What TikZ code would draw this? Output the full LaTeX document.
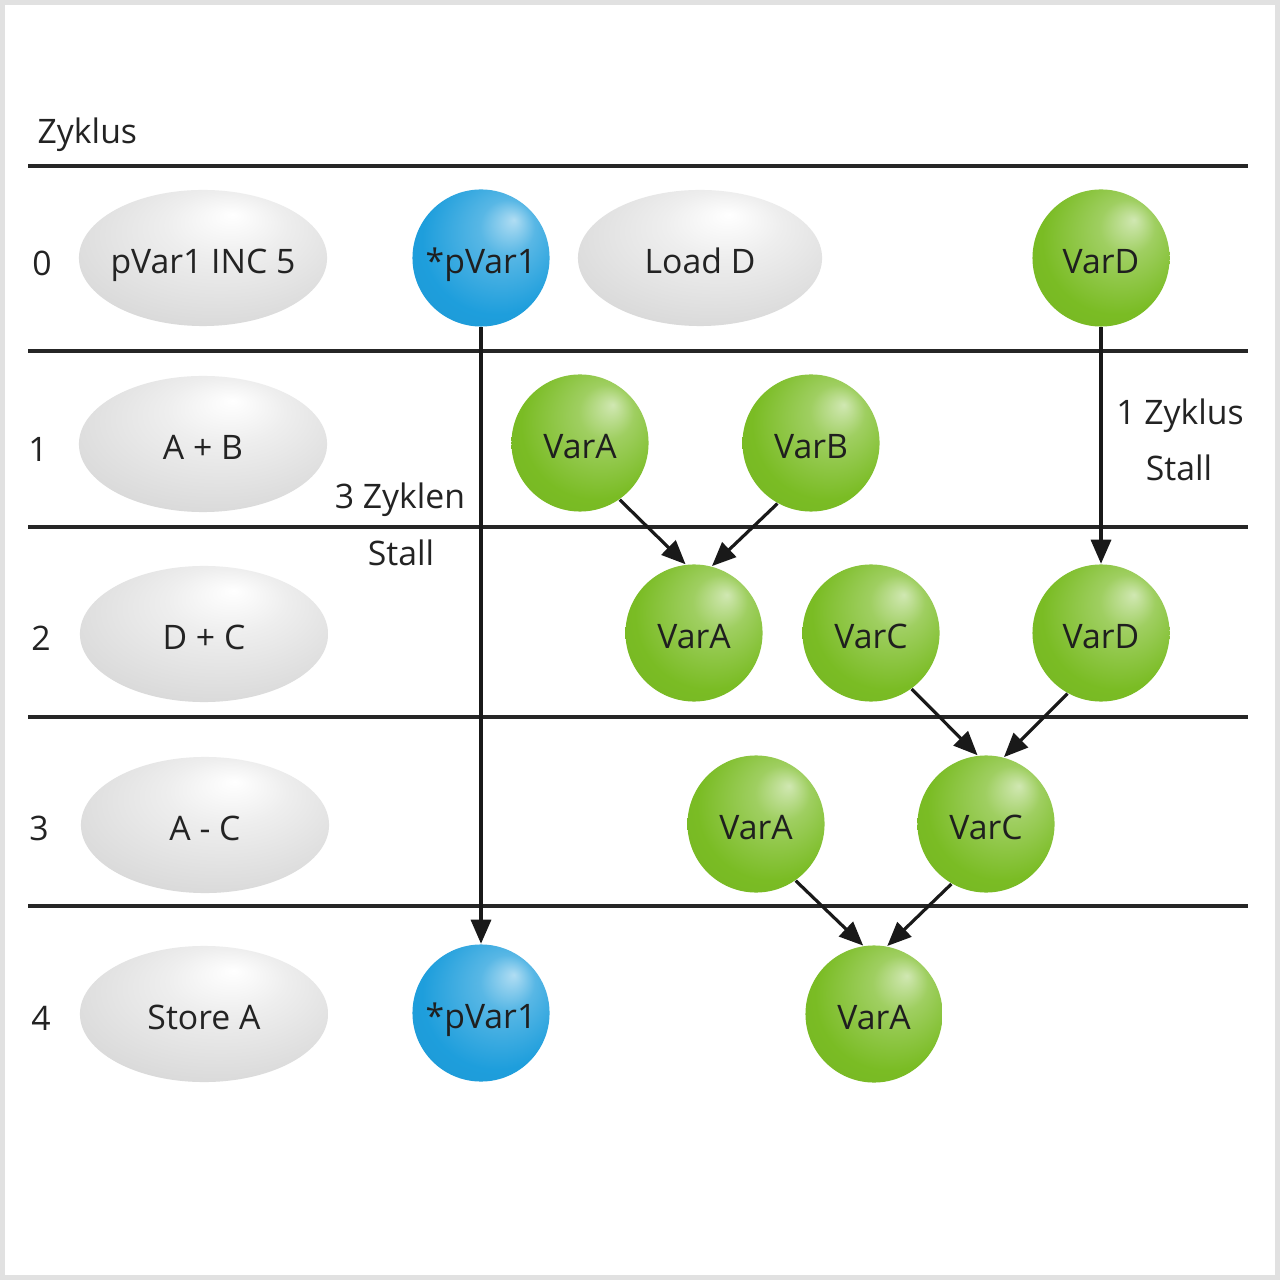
\documentclass[tikz,border=0pt]{standalone}
\usepackage{fontspec}
\setmainfont{Open Sans}
\usetikzlibrary{arrows.meta,shapes.geometric}
\definecolor{gcol}{RGB}{122,188,36}
\definecolor{bcol}{RGB}{30,158,220}
\definecolor{ecol}{RGB}{198,198,198}
\definecolor{frame}{RGB}{225,225,225}
\definecolor{txt}{RGB}{35,35,35}
\newcommand\zw[1]{\makebox[0pt]{#1}}
\pgfdeclareradialshading{greenball}{\pgfpoint{12bp}{14bp}}{%
  color(0bp)=(gcol!35!white); color(10bp)=(gcol!72!white); color(27bp)=(gcol); color(46bp)=(gcol!95!black); color(50bp)=(gcol!88!black)}
\pgfdeclareradialshading{blueball}{\pgfpoint{12bp}{14bp}}{%
  color(0bp)=(bcol!35!white); color(10bp)=(bcol!74!white); color(27bp)=(bcol); color(46bp)=(bcol!95!black); color(50bp)=(bcol!88!black)}
\pgfdeclareradialshading{grayegg}{\pgfpoint{6bp}{16bp}}{%
  color(0bp)=(white); color(12bp)=(white!70!ecol); color(34bp)=(white!30!ecol); color(48bp)=(ecol); color(50bp)=(ecol!92!black)}
\tikzset{
  txtfont/.style={font=\fontsize{9.6}{11}\selectfont, text height=9pt, text depth=0pt},
  ball/.style={circle, minimum size=1.37cm, inner sep=0pt, text=black!88, txtfont},
  gball/.style={ball, shading=greenball},
  bball/.style={ball, shading=blueball},
  egg/.style={ellipse, minimum width=2.48cm, minimum height=1.36cm, inner sep=0pt, shading=grayegg, text=txt, txtfont},
  lbl/.style={text=txt, inner sep=0pt, font=\fontsize{9.6}{11}\selectfont},
  rowline/.style={line width=1pt, draw=black!85},
  arr/.style={line width=0.9pt, draw=black!90, -{Triangle[length=0.24cm,width=0.2cm]}}
}
\begin{document}
\begin{tikzpicture}[x=0.01cm,y=-0.01cm]
\useasboundingbox (0,0) rectangle (1280,1280);
\fill[frame] (0,0) rectangle (1280,1280);
\fill[white] (5,5) rectangle (1275,1275);
% row lines
\foreach \yy/\nm in {166/l0,351/l1,527/l2,717/l3,906/l4}
  \draw[rowline] (28,\yy) coordinate (\nm a) -- (1248,\yy) coordinate (\nm b);
\node[lbl, anchor=west] (zyk) at (37,135) {Zyklus};
% row numbers
\node[lbl] (n0) at (42,263) {0};
\node[lbl] (n1) at (38,449) {1};
\node[lbl] (n2) at (41,638) {2};
\node[lbl] (n3) at (39,828) {3};
\node[lbl] (n4) at (41,1018) {4};
% instruction ellipses
\node[egg] (e0) at (203,258) {\zw{pVar1 INC 5}};
\node[egg] (e1) at (203,444) {\zw{A + B}};
\node[egg] (e2) at (204,634) {\zw{D + C}};
\node[egg] (e3) at (205,825) {\zw{A - C}};
\node[egg] (e4) at (204,1014) {\zw{Store A}};
\node[egg, minimum width=2.44cm] (ld) at (700,258) {\zw{Load D}};
% blue balls
\node[bball] (p0) at (481,258) {\zw{*pVar1}};
\node[bball] (p4) at (481,1013) {\zw{*pVar1}};
% green balls
\node[gball] (d0) at (1101,258) {VarD};
\node[gball] (a1) at (580,443) {VarA};
\node[gball] (b1) at (811,443) {VarB};
\node[gball] (a2) at (694,633) {VarA};
\node[gball] (c2) at (871,633) {VarC};
\node[gball] (d2) at (1101,633) {VarD};
\node[gball] (a3) at (756,824) {VarA};
\node[gball] (c3) at (986,824) {VarC};
\node[gball] (a4) at (874,1014) {VarA};
% arrows
\draw[arr] (p0.south) -- (p4.north);
\draw[arr] (d0.south) -- (d2.north);
\draw[arr] (a1.-55) -- (a2.97);
\draw[arr] (b1.-119) -- (a2.75);
\draw[arr] (c2.-54) -- (c3.97);
\draw[arr] (d2.-119) -- (c3.75);
\draw[arr] (a3.-55) -- (a4.99);
\draw[arr] (c3.-120) -- (a4.79);
% stall labels
\node[lbl] (s3a) at (400,500) {3 Zyklen};
\node[lbl] (s3b) at (401,553) {Stall};
\node[lbl] (s1a) at (1180,416) {1 Zyklus};
\node[lbl] (s1b) at (1179,468) {Stall};
\end{tikzpicture}
\end{document}
